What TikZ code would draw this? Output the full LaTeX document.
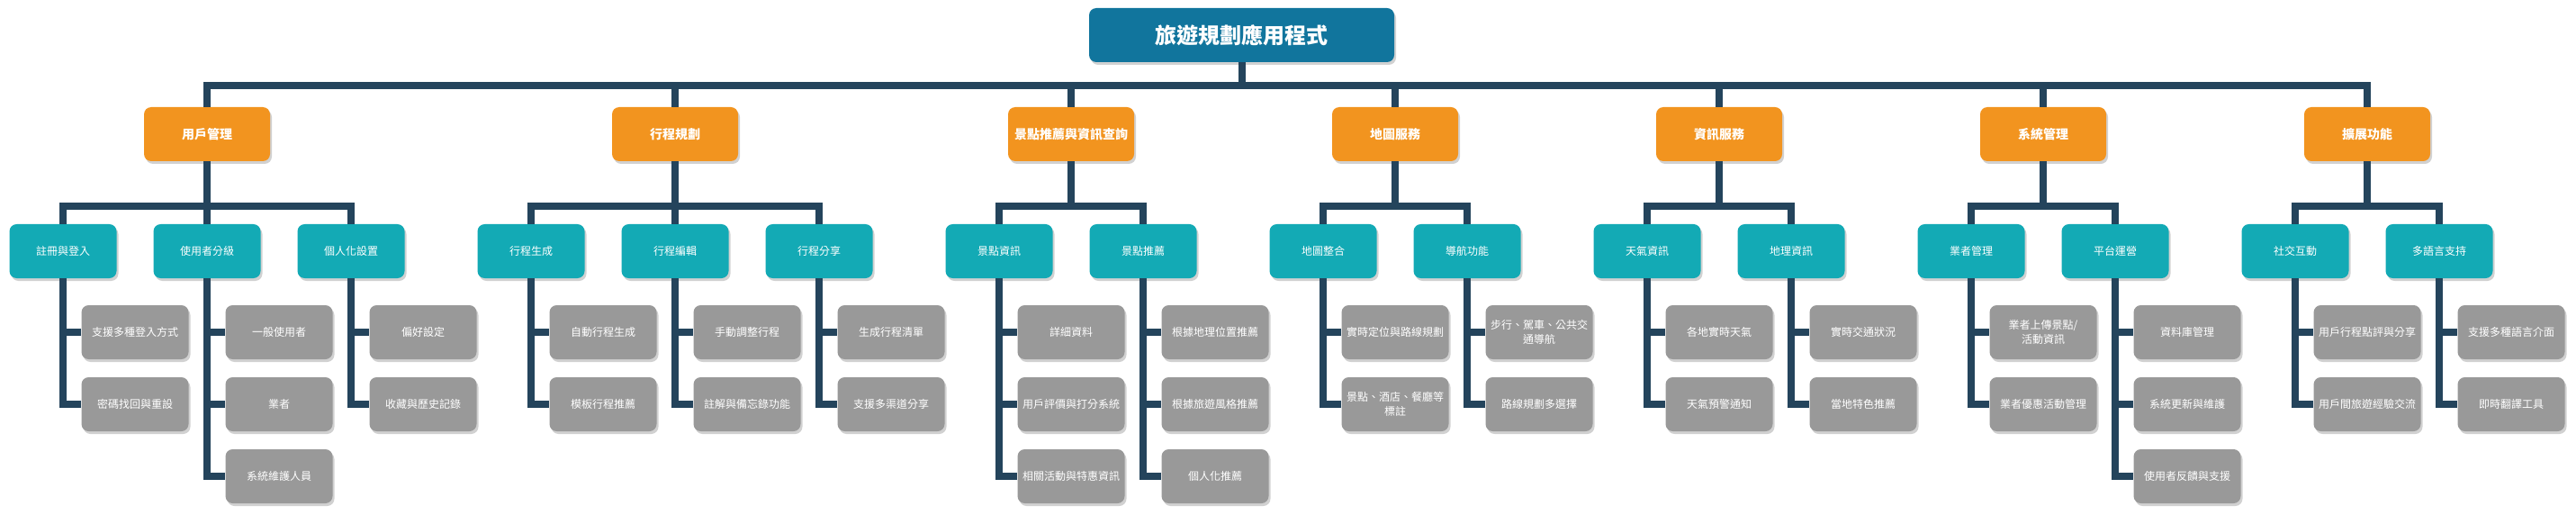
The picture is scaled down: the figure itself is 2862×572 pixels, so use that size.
\documentclass[tikz,border=0pt]{standalone}
\usepackage{fontspec}
\newfontfamily\cjk{Noto Sans CJK TC}
\usetikzlibrary{shadows}
\definecolor{rootc}{HTML}{11759D}
\definecolor{orangec}{HTML}{F2941F}
\definecolor{tealc}{HTML}{13AAB5}
\definecolor{grayc}{HTML}{999999}
\definecolor{linec}{HTML}{24445C}
\tikzset{
 box/.style={rounded corners=8pt, text=white, align=center, inner sep=0pt,
   drop shadow={shadow xshift=2pt, shadow yshift=-3pt, opacity=0.18, fill=black}},
 rootbox/.style={box, fill=rootc, minimum width=339pt, minimum height=60pt, font=\cjk\bfseries\fontsize{24}{28}\selectfont},
 catbox/.style={box, fill=orangec, minimum width=140pt, minimum height=60pt, font=\cjk\bfseries\fontsize{14}{17}\selectfont},
 subbox/.style={box, fill=tealc, minimum width=119pt, minimum height=60pt, font=\cjk\fontsize{12}{15}\selectfont},
 leafbox/.style={box, fill=grayc, minimum width=119pt, minimum height=60pt, font=\cjk\fontsize{12}{16}\selectfont},
 conn/.style={draw=linec, line width=8pt, line join=miter},
}
\begin{document}
\begin{tikzpicture}[x=1pt,y=-1pt]
\useasboundingbox (0,0) rectangle (2862,572);
% root
\node[rootbox] (r) at (1379.5,39) {旅遊規劃應用程式};
% categories
\node[catbox] (p1) at (230,149) {用戶管理};
\node[catbox] (p2) at (750,149) {行程規劃};
\node[catbox] (p3) at (1190,149) {景點推薦與資訊查詢};
\node[catbox] (p4) at (1550,149) {地圖服務};
\node[catbox] (p5) at (1910,149) {資訊服務};
\node[catbox] (p6) at (2270,149) {系統管理};
\node[catbox] (p7) at (2630,149) {擴展功能};
% sub categories
\node[subbox] (c11) at (70,279) {註冊與登入};
\node[subbox] (c12) at (230,279) {使用者分級};
\node[subbox] (c13) at (390,279) {個人化設置};
\node[subbox] (c21) at (590,279) {行程生成};
\node[subbox] (c22) at (750,279) {行程編輯};
\node[subbox] (c23) at (910,279) {行程分享};
\node[subbox] (c31) at (1110,279) {景點資訊};
\node[subbox] (c32) at (1270,279) {景點推薦};
\node[subbox] (c41) at (1470,279) {地圖整合};
\node[subbox] (c42) at (1630,279) {導航功能};
\node[subbox] (c51) at (1830,279) {天氣資訊};
\node[subbox] (c52) at (1990,279) {地理資訊};
\node[subbox] (c61) at (2190,279) {業者管理};
\node[subbox] (c62) at (2350,279) {平台運營};
\node[subbox] (c71) at (2550,279) {社交互動};
\node[subbox] (c72) at (2710,279) {多語言支持};
% leaves
\node[leafbox] (l111) at (150,369) {支援多種登入方式};
\node[leafbox] (l112) at (150,449) {密碼找回與重設};
\node[leafbox] (l121) at (310,369) {一般使用者};
\node[leafbox] (l122) at (310,449) {業者};
\node[leafbox] (l123) at (310,529) {系統維護人員};
\node[leafbox] (l131) at (470,369) {偏好設定};
\node[leafbox] (l132) at (470,449) {收藏與歷史記錄};
\node[leafbox] (l211) at (670,369) {自動行程生成};
\node[leafbox] (l212) at (670,449) {模板行程推薦};
\node[leafbox] (l221) at (830,369) {手動調整行程};
\node[leafbox] (l222) at (830,449) {註解與備忘錄功能};
\node[leafbox] (l231) at (990,369) {生成行程清單};
\node[leafbox] (l232) at (990,449) {支援多渠道分享};
\node[leafbox] (l311) at (1190,369) {詳細資料};
\node[leafbox] (l312) at (1190,449) {用戶評價與打分系統};
\node[leafbox] (l313) at (1190,529) {相關活動與特惠資訊};
\node[leafbox] (l321) at (1350,369) {根據地理位置推薦};
\node[leafbox] (l322) at (1350,449) {根據旅遊風格推薦};
\node[leafbox] (l323) at (1350,529) {個人化推薦};
\node[leafbox] (l411) at (1550,369) {實時定位與路線規劃};
\node[leafbox] (l412) at (1550,449) {景點、酒店、餐廳等\\標註};
\node[leafbox] (l421) at (1710,369) {步行、駕車、公共交\\通導航};
\node[leafbox] (l422) at (1710,449) {路線規劃多選擇};
\node[leafbox] (l511) at (1910,369) {各地實時天氣};
\node[leafbox] (l512) at (1910,449) {天氣預警通知};
\node[leafbox] (l521) at (2070,369) {實時交通狀況};
\node[leafbox] (l522) at (2070,449) {當地特色推薦};
\node[leafbox] (l611) at (2270,369) {業者上傳景點/\\活動資訊};
\node[leafbox] (l612) at (2270,449) {業者優惠活動管理};
\node[leafbox] (l621) at (2430,369) {資料庫管理};
\node[leafbox] (l622) at (2430,449) {系統更新與維護};
\node[leafbox] (l623) at (2430,529) {使用者反饋與支援};
\node[leafbox] (l711) at (2630,369) {用戶行程點評與分享};
\node[leafbox] (l712) at (2630,449) {用戶間旅遊經驗交流};
\node[leafbox] (l721) at (2790,369) {支援多種語言介面};
\node[leafbox] (l722) at (2790,449) {即時翻譯工具};
% root to categories
\foreach \p in {p1,p2,p3,p4,p5,p6,p7}
  \draw[conn] (r.south) |- ([yshift=24pt]\p.north) -- (\p.north);
% categories to sub categories
\foreach \p/\c in {p1/c11,p1/c12,p1/c13,p2/c21,p2/c22,p2/c23,p3/c31,p3/c32,p4/c41,p4/c42,p5/c51,p5/c52,p6/c61,p6/c62,p7/c71,p7/c72}
  \draw[conn] (\p.south) |- ([yshift=20pt]\c.north) -- (\c.north);
% sub categories to leaves
\foreach \c/\l in {c11/l111,c11/l112,c12/l121,c12/l122,c12/l123,c13/l131,c13/l132,
  c21/l211,c21/l212,c22/l221,c22/l222,c23/l231,c23/l232,
  c31/l311,c31/l312,c31/l313,c32/l321,c32/l322,c32/l323,
  c41/l411,c41/l412,c42/l421,c42/l422,c51/l511,c51/l512,c52/l521,c52/l522,
  c61/l611,c61/l612,c62/l621,c62/l622,c62/l623,c71/l711,c71/l712,c72/l721,c72/l722}
  \draw[conn] (\c.south) |- (\l.west);
\end{tikzpicture}
\end{document}
